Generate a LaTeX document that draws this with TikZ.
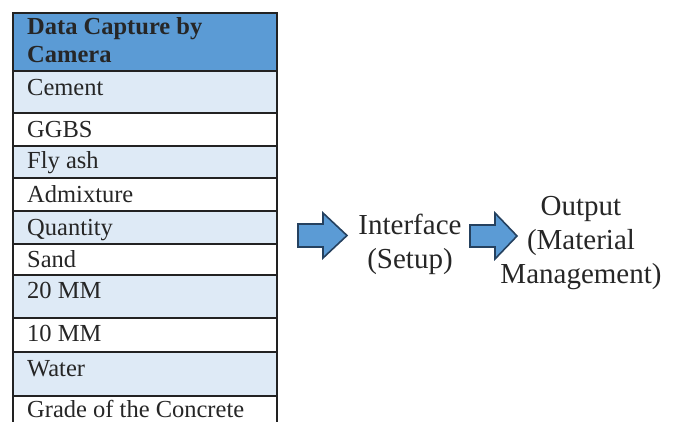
\documentclass[tikz,border=0pt]{standalone}
\usepackage{fontspec}
\setmainfont{Liberation Serif}
\definecolor{headblue}{HTML}{5B9BD5}
\definecolor{rowblue}{HTML}{DEEAF6}
\definecolor{rule}{HTML}{222222}
\definecolor{ink}{HTML}{262626}
\definecolor{arrowedge}{HTML}{25415F}
\tikzset{
  cell/.style={anchor=base west, inner sep=0pt, text=ink,
    font=\fontsize{24.5}{28}\selectfont},
  headcell/.style={cell, align=left, font=\fontsize{24.5}{28}\selectfont\bfseries},
  flowtext/.style={inner sep=0pt, align=center, text=ink,
    font=\fontsize{29}{34}\selectfont},
  blockarrow/.style={fill=headblue, draw=arrowedge, line width=1.6pt, line join=miter},
  gridline/.style={draw=rule, line width=2pt}
}
\begin{document}
\begin{tikzpicture}[x=1pt,y=-1pt]
\useasboundingbox (0,0) rectangle (675,421);
\begin{scope}
\clip (0,0) rectangle (675,421);
% row backgrounds
\fill[headblue] (13,13) rectangle (277,71);
\foreach \a/\b in {71/113,146/178,211/244,275/318,352/396}
  \fill[rowblue] (13,\a) rectangle (277,\b);
% horizontal rules
\foreach \y in {13,71,113,146,178,211,244,275,318,352,396}
  \draw[gridline] (13,\y) -- (277,\y);
% outer verticals (the table runs past the lower edge)
\draw[gridline] (13,12) -- (13,430);
\draw[gridline] (277,12) -- (277,430);
\end{scope}
% cell texts
\node[headcell, anchor=north west, text depth=0pt] (head) at (27,17.5) {Data Capture by\\Camera};
\node[cell] (cement) at (27,95) {Cement};
\node[cell] (ggbs) at (27,137) {GGBS};
\node[cell] (flyash) at (27,168) {Fly ash};
\node[cell] (admix) at (27,202) {Admixture};
\node[cell] (qty) at (27,235) {Quantity};
\node[cell] (sand) at (27,267) {Sand};
\node[cell] (mm20) at (27,298) {20 MM};
\node[cell] (mm10) at (27,341) {10 MM};
\node[cell] (water) at (27,376) {Water};
\node[cell] (grade) at (27,417) {Grade of the Concrete};
% flow stages
\node[flowtext] (iface) at (410,244) {Interface\\(Setup)};
\node[flowtext] (out) at (581,243) {Output\\(Material\\Management)};
% block arrows
\draw[blockarrow] (298,224) -- (323,224) -- (323,213) -- (347,235.5)
  -- (323,258) -- (323,247) -- (298,247) -- cycle;
\draw[blockarrow] (470,225) -- (495,225) -- (495,213) -- (517,236)
  -- (495,259) -- (495,247) -- (470,247) -- cycle;
\end{tikzpicture}
\end{document}
